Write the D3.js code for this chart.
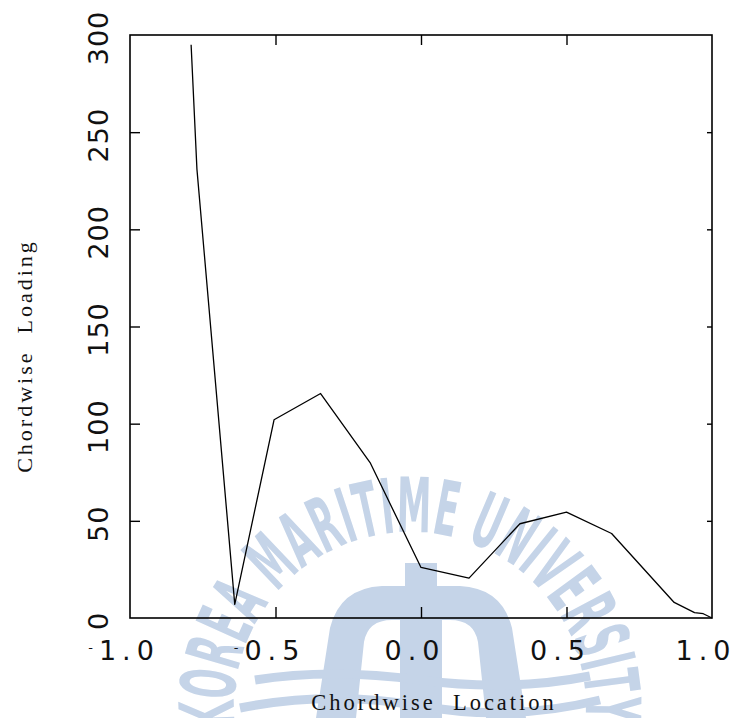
<!DOCTYPE html>
<html>
<head>
<meta charset="utf-8">
<script src="https://cdn.jsdelivr.net/npm/d3@7"></script>
<style>
  body { margin: 0; background: #fff; }
  .tick line { stroke: #000; stroke-width: 1.4; }
  .domain { display: none; }
</style>
</head>
<body>
<div class="chart"></div>
<script>
// chord loading values
const chordX = [-0.79, -0.77, -0.64, -0.505, -0.345, -0.175, 0.0, 0.165, 0.34, 0.50, 0.655, 0.87, 0.94, 0.97, 1.0];
const loading = [295, 231, 7, 102, 115.5, 80, 26, 20.5, 48.5, 54.5, 43.5, 8, 2.8, 2.2, 0];

const xTicks = [-1.0, -0.5, 0.0, 0.5, 1.0];
const xTickLabels = ['-1.0', '-0.5', '0.0', '0.5', '1.0'];
const yTicks = [0, 50, 100, 150, 200, 250, 300];
const yTickLabels = ['0', '50', '100', '150', '200', '250', '300'];

const margin = ({top: 35, right: 25, bottom: 100, left: 130});
const width = 737 - margin.left - margin.right;
const height = 718 - margin.top - margin.bottom;

const root = d3.select('.chart')
  .append('svg')
  .attr('width', 737)
  .attr('height', 718);

// watermark (light blue, behind the chart)
const wmColor = '#c5d4e8';
const wm = root.append('g').attr('fill', wmColor);
const cx = 410, cy = 708, r = 176;
const a0 = 186 * Math.PI / 180, a1 = -6 * Math.PI / 180;
root.append('defs').append('path')
  .attr('id', 'wmArc')
  .attr('d', `M${cx + r * Math.cos(a0)},${cy - r * Math.sin(a0)} A${r},${r} 0 1 1 ${cx + r * Math.cos(a1)},${cy - r * Math.sin(a1)}`);
wm.append('text')
  .attr('font-family', 'DejaVu Sans Condensed, DejaVu Sans')
  .attr('font-weight', 'bold')
  .attr('font-size', 76)
  .append('textPath')
  .attr('href', '#wmArc')
  .attr('textLength', 585)
  .attr('lengthAdjust', 'spacingAndGlyphs')
  .text('KOREA MARITIME UNIVERSITY');
wm.append('path')
  .attr('fill-rule', 'evenodd')
  .attr('d', 'M316,718 L330,628 Q340,588 382,586 L460,586 Q502,588 512,628 L526,718 Z ' +
             'M356,718 L364,642 Q368,620 392,620 L400,620 L400,718 Z ' +
             'M442,718 L442,620 L450,620 Q474,620 478,642 L486,718 Z');
wm.append('rect').attr('x', 405).attr('y', 563).attr('width', 32).attr('height', 155);
wm.append('path')
  .attr('fill', 'none')
  .attr('stroke', wmColor)
  .attr('stroke-width', 9)
  .attr('d', 'M240,708 Q330,690 420,706 Q510,722 600,700 M255,680 Q330,668 420,680 Q510,692 590,676');

const svg = root.append('g')
  .attr('transform', 'translate(' + margin.left + ',' + margin.top + ')');

// scales
const xScale = d3.scaleLinear().domain([-1, 1]).range([0, width]);
const yScale = d3.scaleLinear().domain([0, 300]).range([height, 0]);

// ticks on all four sides, pointing inward
svg.append('g')
  .attr('transform', `translate(0, ${height})`)
  .call(d3.axisBottom(xScale).tickValues(xTicks.slice(1, -1)).tickSize(-11).tickFormat(''));
svg.append('g')
  .call(d3.axisTop(xScale).tickValues(xTicks.slice(1, -1)).tickSize(-10).tickFormat(''));
svg.append('g')
  .call(d3.axisLeft(yScale).tickValues(yTicks.slice(1, -1)).tickSize(-10).tickFormat(''));
svg.append('g')
  .attr('transform', `translate(${width}, 0)`)
  .call(d3.axisRight(yScale).tickValues(yTicks.slice(1, -1)).tickSize(-5).tickFormat(''));

// frame
svg.append('rect')
  .attr('width', width)
  .attr('height', height)
  .attr('fill', 'none')
  .attr('stroke', '#000')
  .attr('stroke-width', 1.6);

// loading line
const line = d3.line()
  .x((d, i) => xScale(chordX[i]))
  .y(d => yScale(d));

svg.append('path')
  .datum(loading)
  .attr('fill', 'none')
  .attr('stroke', '#000')
  .attr('stroke-width', 1.3)
  .attr('stroke-linejoin', 'round')
  .attr('d', line);

// x tick labels
const xLab = svg.selectAll('.xlab')
  .data(xTickLabels)
  .enter()
  .append('text')
  .attr('class', 'xlab')
  .attr('x', (d, i) => xScale(xTicks[i]) - 6)
  .attr('y', height + 42)
  .attr('text-anchor', 'middle')
  .attr('font-family', 'DejaVu Sans')
  .attr('font-size', 27)
  .attr('letter-spacing', 6)
  .attr('fill', '#111');
xLab.each(function(d) {
  const t = d3.select(this);
  if (d[0] === '-') {
    t.append('tspan').attr('font-size', 13).attr('dy', -8).text('-');
    t.append('tspan').attr('dy', 8).text(d.slice(1));
  } else {
    t.text(d);
  }
});

// y tick labels, rotated
svg.selectAll('.ylab')
  .data(yTickLabels)
  .enter()
  .append('text')
  .attr('class', 'ylab')
  .attr('transform', (d, i) => `translate(-22, ${yScale(yTicks[i]) + 3}) rotate(-90)`)
  .attr('text-anchor', 'middle')
  .attr('font-family', 'DejaVu Sans')
  .attr('font-size', 27)
  .attr('letter-spacing', 1)
  .attr('fill', '#111')
  .text(d => d);

// axis titles
root.append('text')
  .attr('x', 434)
  .attr('y', 710)
  .attr('text-anchor', 'middle')
  .attr('font-family', 'Liberation Serif')
  .attr('font-size', 22.5)
  .attr('letter-spacing', 3)
  .style('white-space', 'pre')
  .attr('fill', '#111')
  .text('Chordwise  Location');

root.append('text')
  .attr('transform', 'translate(32, 356) rotate(-90)')
  .attr('text-anchor', 'middle')
  .attr('font-family', 'Liberation Serif')
  .attr('font-size', 22)
  .attr('letter-spacing', 3)
  .style('white-space', 'pre')
  .attr('fill', '#111')
  .text('Chordwise  Loading');
</script>
</body>
</html>
